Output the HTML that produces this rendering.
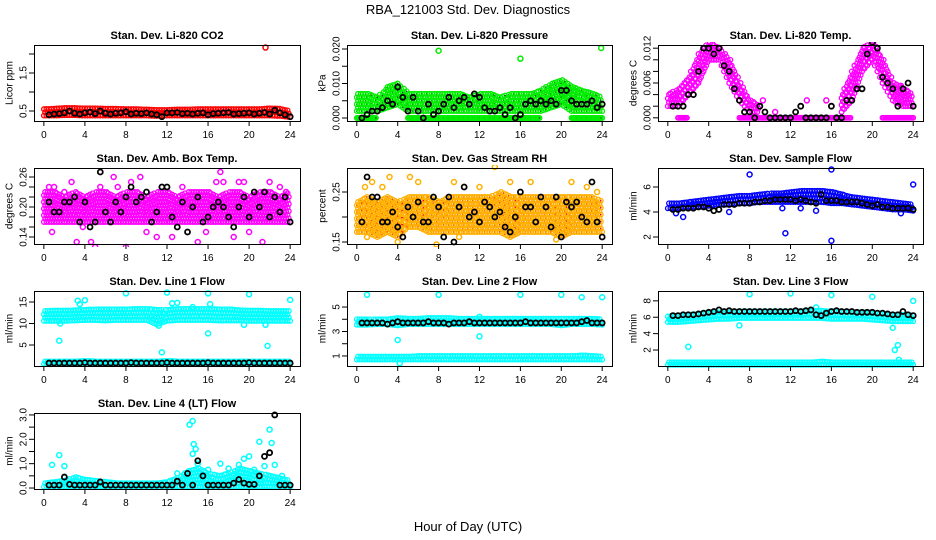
<!DOCTYPE html>
<html><head><meta charset="utf-8"><style>
html,body{margin:0;padding:0;background:#fff;}
svg{display:block;font-family:"Liberation Sans",sans-serif;}
</style></head><body>
<svg id="chart" width="936" height="540" viewBox="0 0 936 540" xmlns="http://www.w3.org/2000/svg">
<text x="468" y="14" text-anchor="middle" font-size="13">RBA_121003  Std. Dev. Diagnostics</text>
<text x="468" y="531" text-anchor="middle" font-size="13">Hour of Day (UTC)</text>
</svg>
<script>
// ---------- data ----------
const xTicks = [0,4,8,12,16,20,24];
const co2Low = [0.38,0.38,0.39,0.39,0.38,0.38,0.38,0.38,0.38,0.38,0.38,0.37,0.38,0.38,0.38,0.38,0.38,0.38,0.38,0.38,0.38,0.38,0.38,0.37,0.34];
const co2High = [0.55,0.56,0.58,0.58,0.57,0.57,0.56,0.56,0.55,0.55,0.54,0.53,0.53,0.54,0.54,0.55,0.55,0.55,0.55,0.55,0.55,0.55,0.57,0.56,0.50];
const co2Out = [[21.6,2.17]];
const co2Black = [0.40,0.42,0.43,0.45,0.50,0.44,0.42,0.45,0.47,0.43,0.50,0.44,0.42,0.44,0.45,0.48,0.42,0.44,0.43,0.45,0.42,0.40,0.35,0.45,0.45,0.46,0.43,0.44,0.42,0.44,0.45,0.40,0.43,0.44,0.45,0.46,0.42,0.43,0.44,0.45,0.42,0.44,0.46,0.42,0.52,0.45,0.40,0.35];

const presLow = [0.002,0.002,0.002,0.003,0.004,0.002,0.002,0.002,0.002,0.002,0.002,0.002,0.002,0.002,0.002,0.002,0.002,0.002,0.002,0.003,0.004,0.002,0.002,0.002,0.002];
const presHigh = [0.007,0.007,0.006,0.009,0.010,0.007,0.007,0.007,0.007,0.007,0.007,0.006,0.007,0.007,0.006,0.007,0.007,0.007,0.008,0.010,0.011,0.009,0.008,0.007,0.006];
const presZero = [0,0,0,null,null,0,0,0,0,0,0,0,0,0,0,0,0,0,0,null,null,0,0,0,0];
const presOut = [[8,0.0195],[16,0.0172],[23.9,0.0203],[21.3,0.008],[22.4,0.0075]];
const presBlack = [0,0.001,0.002,0.002,0.003,0.005,0.004,0.009,0.006,0.002,0.006,0.002,0,0.004,0.001,0.002,0.004,0.006,0.003,0.005,0.006,0.004,0.007,0.006,0.003,0.002,0.002,0.003,0.001,0.003,0,0.001,0.004,0.005,0.004,0.005,0.004,0.005,0.004,0.008,0.008,0.005,0.004,0.004,0.004,0.005,0.003,0.004];

const tempLow = [0.002,0.002,0.004,0.006,0.010,0.010,0.006,0.003,0.001,0.001,null,null,null,null,null,null,null,0.001,0.003,0.008,0.010,0.006,0.003,0.002,0.002];
const tempHigh = [0.004,0.005,0.007,0.011,0.013,0.012,0.010,0.006,0.003,0.002,null,null,null,null,null,null,null,0.004,0.008,0.012,0.013,0.010,0.006,0.005,0.004];
const tempZero = [null,0,0,null,null,null,null,0,0,0,0,0,0,0,0,0,0,0,0,null,null,0,0,0,0];
const tempOut = [[13.6,0.003],[15.5,0.003],[22.8,0.0055],[9.3,0.003],[10.5,0.001]];
const tempBlack = [0.002,0.002,0.002,0.004,0.004,0.008,0.012,0.012,0.011,0.012,0.009,0.008,0.005,0.003,0.001,0.001,0,0.002,0.001,0,0,0,0,0,0.001,0.002,0,0,0,0,0,0.002,0,0,0.003,0.003,0.005,0.005,0.011,0.013,0.012,0.007,0.006,0.005,0.002,0.005,0.006,0.002];

const ambLow = [0.17,0.17,0.17,0.17,0.17,0.17,0.17,0.17,0.17,0.17,0.17,0.17,0.17,0.17,0.17,0.17,0.17,0.17,0.17,0.17,0.17,0.17,0.17,0.17,0.17];
const ambHigh = [0.23,0.23,0.22,0.23,0.22,0.23,0.23,0.22,0.23,0.23,0.22,0.23,0.23,0.22,0.23,0.23,0.23,0.22,0.23,0.23,0.22,0.23,0.23,0.22,0.23];
const ambOut = [[0.5,0.24],[0.8,0.15],[1,0.24],[2,0.23],[2.7,0.25],[3.2,0.13],[3.8,0.16],[4.6,0.13],[5,0.12],[5.5,0.24],[6.8,0.26],[7.2,0.24],[8,0.12],[8.5,0.25],[9.4,0.26],[10,0.15],[11,0.14],[11.5,0.24],[12.5,0.14],[13.5,0.24],[15,0.13],[15.8,0.15],[16.8,0.25],[17.2,0.27],[17.5,0.25],[18.5,0.14],[19,0.25],[19.5,0.25],[20,0.15],[21.3,0.13],[22,0.25],[23,0.24],[23.6,0.23]];
const ambBlack = [0.21,0.19,0.19,0.21,0.21,0.22,0.17,0.21,0.16,0.17,0.27,0.19,0.17,0.21,0.19,0.22,0.24,0.21,0.22,0.23,0.17,0.19,0.24,0.24,0.18,0.16,0.21,0.15,0.20,0.22,0.17,0.18,0.20,0.21,0.20,0.18,0.16,0.20,0.22,0.18,0.23,0.20,0.23,0.18,0.22,0.19,0.22,0.17];

const rhLow = [0.17,0.17,0.16,0.17,0.16,0.18,0.18,0.17,0.17,0.17,0.17,0.17,0.17,0.17,0.17,0.16,0.17,0.17,0.17,0.17,0.16,0.17,0.17,0.17,0.17];
const rhHigh = [0.23,0.24,0.23,0.24,0.23,0.24,0.24,0.24,0.23,0.24,0.24,0.24,0.24,0.24,0.25,0.24,0.24,0.24,0.24,0.24,0.24,0.24,0.24,0.24,0.23];
const rhOut = [[0.8,0.26],[1.5,0.27],[2.5,0.26],[3.2,0.28],[4,0.15],[5.2,0.28],[6,0.27],[7.8,0.145],[9.5,0.27],[10.5,0.26],[12,0.26],[13.5,0.30],[15,0.27],[17,0.27],[19.5,0.155],[21,0.27],[22.5,0.26],[23.5,0.25],[1,0.16],[10,0.16]];
const rhBlack = [0.19,0.28,0.24,0.24,0.19,0.19,0.21,0.18,0.16,0.22,0.20,0.23,0.19,0.19,0.24,0.22,0.16,0.24,0.15,0.22,0.26,0.20,0.21,0.19,0.23,0.22,0.20,0.21,0.18,0.17,0.20,0.25,0.22,0.22,0.19,0.24,0.22,0.18,0.24,0.16,0.23,0.22,0.23,0.20,0.19,0.27,0.19,0.16];

const flowLow = [4.3,4.3,4.4,4.4,4.5,4.6,4.6,4.7,4.7,4.8,4.8,4.8,4.8,4.8,4.8,4.8,4.7,4.7,4.6,4.5,4.4,4.3,4.2,4.2,4.1];
const flowHigh = [4.7,4.7,4.8,4.9,5.0,5.1,5.2,5.3,5.3,5.4,5.5,5.5,5.6,5.7,5.7,5.7,5.6,5.4,5.2,5.1,5.0,4.9,4.8,4.7,4.6];
const flowOut = [[8,7.0],[16,7.4],[16,1.7],[11.5,2.3],[24,6.2],[1.5,3.6],[6,4.0],[0.8,3.9],[11.2,4.3],[13,4.3],[14.5,4.1],[22.8,3.9]];
const flowBlack = [4.2,4.2,4.3,4.3,4.3,4.4,4.4,4.3,4.1,4.2,4.6,4.6,4.6,4.7,4.7,4.7,4.8,4.8,4.9,4.9,5.0,5.0,5.0,5.0,4.9,5.0,4.9,4.8,4.7,5.4,4.9,4.9,4.9,4.8,4.8,4.8,4.8,4.7,4.6,4.5,4.6,4.4,4.4,4.3,4.3,4.3,4.3,4.2];

const l1HiLow = [10.6,10.6,10.6,10.7,10.8,10.8,10.7,10.8,10.8,10.8,10.8,9.8,10.6,10.8,10.8,10.8,10.8,10.7,10.7,10.7,10.6,10.6,10.6,10.6,10.6];
const l1HiHigh = [12.9,13.0,13.0,13.1,13.2,13.3,13.3,13.3,13.3,13.4,13.4,13.2,13.2,13.4,13.4,13.4,13.4,13.3,13.3,13.1,13.0,13.0,12.9,12.9,12.9];
const l1LoLow = [0.6,0.6,0.6,0.6,0.6,0.6,0.6,0.6,0.6,0.6,0.6,0.6,0.6,0.6,0.6,0.6,0.6,0.6,0.6,0.6,0.6,0.6,0.6,0.6,0.6];
const l1LoHigh = [1.2,1.2,1.2,1.2,1.3,1.2,1.2,1.2,1.2,1.2,1.2,1.2,1.3,1.2,1.2,1.2,1.2,1.2,1.2,1.2,1.2,1.2,1.2,1.2,1.2];
const l1Out = [[1.5,6.0],[3.3,15.3],[3.5,14.5],[4,15.4],[8,17],[11.5,3.3],[12,17.2],[12.5,14.7],[13,14.8],[16,17],[16,7.7],[16.2,14.5],[20,16.8],[21.8,4.8],[21.6,9.7],[24,15.5],[11.2,9.5],[19.5,9.7],[1.6,10],[14.5,13.8]];
const l1Black = [0.8,0.8,0.8,0.8,0.8,0.8,0.8,0.9,0.8,0.8,0.8,0.8,0.8,0.8,0.8,0.8,0.9,0.8,0.8,0.8,0.8,0.8,0.8,0.9,0.8,0.8,0.8,0.8,0.8,0.8,0.8,0.9,0.8,0.8,0.8,0.8,0.8,0.8,0.8,0.9,0.8,0.8,0.8,0.8,0.8,0.8,0.8,0.8];

const l2HiLow = [3.55,3.55,3.6,3.6,3.5,3.6,3.6,3.6,3.6,3.6,3.6,3.6,3.6,3.6,3.6,3.6,3.6,3.6,3.6,3.6,3.5,3.6,3.6,3.6,3.55];
const l2HiHigh = [4.0,4.0,4.0,4.0,4.1,4.05,4.05,4.1,4.1,4.1,4.05,4.05,4.05,4.05,4.05,4.05,4.05,4.05,4.05,4.05,4.05,4.05,4.05,4.05,4.0];
const l2LoLow = [0.7,0.7,0.7,0.7,0.7,0.7,0.7,0.7,0.7,0.7,0.7,0.7,0.7,0.7,0.7,0.7,0.7,0.7,0.7,0.7,0.7,0.7,0.7,0.7,0.7];
const l2LoHigh = [0.95,0.95,0.95,0.95,0.95,0.95,1.0,1.0,1.0,1.0,1.0,1.0,1.0,1.0,1.0,1.0,1.0,1.0,1.0,1.0,1.0,1.0,1.05,1.0,0.95];
const l2Out = [[1,6.0],[8,6.0],[16,6.0],[20,6.0],[22,5.8],[24,5.8],[12,2.6],[4,2.3],[4.2,0.4],[12,4.2]];
const l2Black = [3.7,3.7,3.7,3.7,3.7,3.6,3.7,3.8,3.7,3.7,3.7,3.7,3.7,3.8,3.7,3.7,3.7,3.6,3.7,3.7,3.7,3.8,3.7,3.7,3.7,3.7,3.7,3.7,3.7,3.7,3.7,3.7,3.8,3.7,3.7,3.7,3.7,3.7,3.7,3.7,3.7,3.7,3.7,3.8,3.9,3.7,3.7,3.7];

const l3HiLow = [5.4,5.4,5.5,5.6,5.7,5.8,5.8,5.9,5.9,5.9,5.9,5.9,5.9,5.9,5.9,5.9,5.8,5.8,5.8,5.8,5.7,5.6,5.5,5.5,5.5];
const l3HiHigh = [6.1,6.2,6.3,6.4,6.5,6.6,6.6,6.7,6.7,6.7,6.7,6.7,6.7,6.7,6.8,6.8,6.7,6.7,6.6,6.6,6.5,6.4,6.3,6.3,6.2];
const l3LoLow = [0.2,0.2,0.2,0.2,0.2,0.2,0.2,0.2,0.2,0.2,0.2,0.2,0.2,0.2,0.2,0.2,0.2,0.2,0.2,0.2,0.2,0.2,0.2,0.2,0.2];
const l3LoHigh = [0.5,0.5,0.5,0.5,0.5,0.5,0.5,0.5,0.5,0.5,0.5,0.5,0.5,0.5,0.5,0.6,0.5,0.5,0.5,0.5,0.5,0.5,0.5,0.5,0.5];
const l3Out = [[2,2.4],[7,5.0],[8,8.8],[12,8.9],[16,8.7],[20,8.5],[24,8.0],[22,4.7],[22.5,2.6],[22.2,2.0],[22.6,0.8],[14.5,7.2]];
const l3Black = [6.2,6.2,6.3,6.3,6.3,6.4,6.5,6.6,6.7,6.9,6.7,6.8,6.7,6.7,6.7,6.7,6.7,6.7,6.7,6.7,6.7,6.7,6.7,6.7,6.8,6.7,6.8,6.9,6.3,6.2,6.5,6.7,6.8,6.7,6.7,6.7,6.6,6.6,6.6,6.6,6.5,6.5,6.4,6.3,6.3,6.7,6.3,6.2];

const l4Low = [0.05,0.05,0.05,0.05,0.05,0.05,0.05,0.05,0.05,0.05,0.05,0.05,0.05,0.05,0.05,0.05,0.05,0.05,0.05,0.05,0.05,0.05,0.05,0.05,0.05];
const l4High = [0.2,0.25,0.3,0.45,0.35,0.3,0.25,0.2,0.2,0.2,0.2,0.2,0.25,0.4,0.7,0.8,0.6,0.5,0.6,0.8,0.7,0.6,0.5,0.4,0.3];
const l4Out = [[0.8,0.95],[1.5,1.35],[2,0.9],[14.2,2.6],[14.5,2.75],[14.6,1.8],[14.5,1.4],[14.8,1.6],[15,1.0],[16,0.75],[17.2,1.0],[18,0.8],[19,0.95],[19.5,1.2],[20,1.3],[20.5,0.75],[21,1.9],[21.5,0.9],[22,2.4],[22.2,1.85],[22.5,0.95],[23.2,0.5],[13,0.6],[15.5,0.4],[18.8,0.5]];
const l4Black = [0.12,0.12,0.12,0.45,0.15,0.12,0.12,0.12,0.12,0.12,0.25,0.12,0.12,0.12,0.12,0.12,0.12,0.12,0.12,0.12,0.12,0.12,0.12,0.12,0.12,0.28,0.12,0.60,0.12,1.12,0.50,0.12,0.12,0.12,0.12,0.12,0.20,0.35,0.20,0.15,0.15,0.50,1.30,1.45,3.0,0.12,0.12,0.12];

const blackHours = Array.from({length:48},(_, i)=>0.5+i*0.5);
const bandHours = Array.from({length:25},(_, i)=>i);

// ---------- panels (layout) ----------
const cols=[[34,300],[347,612],[658,923]];
const rows=[[45,121],[168,244],[291,366],[413,489]];
const panels=[
 {name:'co2',c:0,r:0,title:'Stan. Dev. Li-820 CO2',ylab:'Licor ppm',ylim:[0.237,2.237],ticks:[0.5,1,1.5,2],labels:['0.5',null,'1.5',null],col:'#ff0000',bands:[[co2Low,co2High]],out:co2Out,black:co2Black},
 {name:'pressure',c:1,r:0,title:'Stan. Dev. Li-820 Pressure',ylab:'kPa',ylim:[-0.00087,0.02116],ticks:[0,0.005,0.01,0.015,0.02],labels:['0.000',null,'0.010',null,'0.020'],col:'#00ee00',dot:'#004400',bands:[[presLow,presHigh],[presZero,presZero]],out:presOut,black:presBlack},
 {name:'li820-temp',c:2,r:0,title:'Stan. Dev. Li-820 Temp.',ylab:'degrees C',ylim:[-0.00055,0.01255],ticks:[0,0.002,0.004,0.006,0.008,0.010,0.012],labels:['0.000',null,null,'0.006',null,null,'0.012'],col:'#ff00ff',bands:[[tempLow,tempHigh],[tempZero,tempZero]],out:tempOut,black:tempBlack},
 {name:'amb-box-temp',c:0,r:1,title:'Stan. Dev. Amb. Box Temp.',ylab:'degrees C',ylim:[0.126,0.278],ticks:[0.14,0.16,0.18,0.20,0.22,0.24,0.26],labels:['0.14',null,null,'0.20',null,null,'0.26'],col:'#ff00ff',bands:[[ambLow,ambHigh]],out:ambOut,black:ambBlack},
 {name:'gas-stream-rh',c:1,r:1,title:'Stan. Dev. Gas Stream RH',ylab:'percent',ylim:[0.146,0.298],ticks:[0.15,0.20,0.25],labels:['0.15',null,'0.25'],col:'#ffb000',dot:'#ff0000',bands:[[rhLow,rhHigh]],out:rhOut,black:rhBlack},
 {name:'sample-flow',c:2,r:1,title:'Stan. Dev. Sample Flow',ylab:'ml/min',ylim:[1.44,7.52],ticks:[2,4,6],labels:['2','4','6'],col:'#0000ff',bands:[[flowLow,flowHigh]],out:flowOut,black:flowBlack},
 {name:'line1-flow',c:0,r:2,title:'Stan. Dev. Line 1 Flow',ylab:'ml/min',ylim:[0.12,17.56],ticks:[5,10,15],labels:['5','10','15'],col:'#00ffff',bands:[[l1HiLow,l1HiHigh],[l1LoLow,l1LoHigh]],out:l1Out,black:l1Black},
 {name:'line2-flow',c:1,r:2,title:'Stan. Dev. Line 2 Flow',ylab:'ml/min',ylim:[0.18,6.31],ticks:[1,2,3,4,5],labels:['1',null,'3',null,'5'],col:'#00ffff',bands:[[l2HiLow,l2HiHigh],[l2LoLow,l2LoHigh]],out:l2Out,black:l2Black},
 {name:'line3-flow',c:2,r:2,title:'Stan. Dev. Line 3 Flow',ylab:'ml/min',ylim:[0.05,9.2],ticks:[2,4,6,8],labels:['2','4','6','8'],col:'#00ffff',bands:[[l3HiLow,l3HiHigh],[l3LoLow,l3LoHigh]],out:l3Out,black:l3Black},
 {name:'line4-flow',c:0,r:3,title:'Stan. Dev. Line 4 (LT) Flow',ylab:'ml/min',ylim:[-0.04,3.08],ticks:[0,0.5,1,1.5,2,2.5,3],labels:['0.0',null,'1.0',null,'2.0',null,'3.0'],col:'#00ffff',bands:[[l4Low,l4High]],out:l4Out,black:l4Black}
];

const NS='http://www.w3.org/2000/svg';
const svg=document.getElementById('chart');
function mk(tag,attrs,parent){const e=document.createElementNS(NS,tag);for(const k in attrs)e.setAttribute(k,attrs[k]);(parent||svg).appendChild(e);return e;}

panels.forEach(p=>{
  const [L,R]=cols[p.c],[T,B]=rows[p.r];
  const x0=L+(R-L)*0.04/1.08, xs=(R-L)/1.08/24;
  const X=h=>x0+h*xs;
  const Y=v=>B-(v-p.ylim[0])/(p.ylim[1]-p.ylim[0])*(B-T);
  const g=mk('g',{});
  
  
  const clip=mk('clipPath',{id:'clip-'+p.name},g);
  mk('rect',{x:L-3,y:T-3,width:R-L+6,height:B-T+6},clip);
  const pts=mk('g',{'clip-path':'url(#clip-'+p.name+')'},g);
  
  
  p.bands.forEach(([lo,hi])=>{
    for(let i=0;i<24;i++){
      if(lo[i]==null||lo[i+1]==null)continue;
      for(let s=0;s<4;s++){
        const f=s/4,h=bandHours[i]+f;
        const l=lo[i]+(lo[i+1]-lo[i])*f, u=hi[i]+(hi[i+1]-hi[i])*f;
        const yl=Y(l),yu=Y(u);
        const n=Math.max(1,Math.round((yl-yu)/3.5));
        for(let k=0;k<=n;k++){
          const yy=yl-(yl-yu)*k/n;
          const cx=X(h)+((k%2)?1.2:0);
          const c=mk('circle',{cx:cx.toFixed(1),cy:yy.toFixed(1),r:2.3,fill:'none',stroke:p.col,'stroke-width':1.3},pts);
          
          
          if(p.dot&&(k+s)%2===0)mk('circle',{cx:cx.toFixed(1),cy:yy.toFixed(1),r:0.8,fill:p.dot},pts);
        }
      }
    }
    if(lo[24]!=null){
      const c=mk('circle',{cx:X(24),cy:Y(lo[24]),r:2.3,fill:'none',stroke:p.col,'stroke-width':1.3},pts);
      
      
    }
  });
  p.out.forEach(([h,v])=>{
    const c=mk('circle',{cx:X(h),cy:Y(v),r:2.5,fill:'none',stroke:p.col,'stroke-width':1.5},pts);
    
    
  });
  p.black.forEach((v,i)=>{
    const c=mk('circle',{cx:X(blackHours[i]),cy:Y(v),r:2.5,fill:'none',stroke:'#000','stroke-width':1.8},pts);
    
    
  });
  const box=mk('rect',{x:L+0.5,y:T+0.5,width:R-L,height:B-T,fill:'none',stroke:'#000','stroke-width':1},g);
  
  
  mk('line',{x1:X(0),x2:X(24),y1:B+0.5,y2:B+0.5,stroke:'#000'},g);
  xTicks.forEach(t=>{
    mk('line',{x1:X(t),x2:X(t),y1:B,y2:B+5,stroke:'#000'},g);
    const tx=mk('text',{x:X(t),y:B+17,'text-anchor':'middle','font-size':10},g);
    tx.textContent=t;
    
    
  });
  p.ticks.forEach((t,i)=>{
    const yy=Y(t);
    mk('line',{x1:L-5,x2:L,y1:yy,y2:yy,stroke:'#000'},g);
    if(p.labels[i]!=null){
      const tx=mk('text',{x:L-10,y:yy,'text-anchor':'middle','font-size':10,transform:`rotate(-90 ${L-10} ${yy})`,'dominant-baseline':'middle'},g);
      tx.textContent=p.labels[i];
      
      
    }
  });
  const yl=mk('text',{x:L-24,y:(T+B)/2,'text-anchor':'middle','font-size':10,transform:`rotate(-90 ${L-24} ${(T+B)/2})`,'dominant-baseline':'middle'},g);
  yl.textContent=p.ylab;
  
  
  const ti=mk('text',{x:(L+R)/2,y:T-6,'text-anchor':'middle','font-size':11,'font-weight':'bold'},g);
  ti.textContent=p.title;
  
  
});
</script>
</body></html>
